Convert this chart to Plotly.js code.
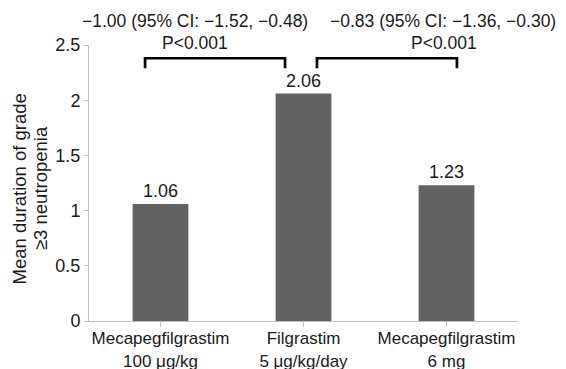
<!DOCTYPE html>
<html>
<head>
<meta charset="utf-8">
<script src="https://cdn.plot.ly/plotly-3.0.1.min.js"></script>
<style>html,body{margin:0;padding:0;background:#fff;}#chart{width:566px;height:369px;}</style>
</head>
<body>
<div id="chart"></div>
<script>
// Data
const categories = ['Mecapegfilgrastim<br>100 μg/kg', 'Filgrastim<br>5 μg/kg/day', 'Mecapegfilgrastim<br>6 mg'];
const meanDuration = [1.06, 2.06, 1.23];
const valueLabels = ['1.06', '2.06', '1.23'];
const diffLabels = ['−1.00 (95% CI: −1.52, −0.48)', '−0.83 (95% CI: −1.36, −0.30)'];
const pLabels = ['P&lt;0.001', 'P&lt;0.001'];
const yTitleLines = ['Mean duration of grade', '≥3 neutropenia'];

const FONT = 'Liberation Sans, Arial, Helvetica, sans-serif';
const TXT = '#1a1a1a';
const AX = '#c0c0c0';
const FS = 18;

const xIdx = categories.map((_, i) => i);

const trace = {
  type: 'bar',
  x: xIdx,
  y: meanDuration,
  width: 0.39,
  marker: {color: '#626262'},
  text: valueLabels,
  textposition: 'outside',
  textfont: {family: FONT, size: FS, color: TXT},
  cliponaxis: false,
  hoverinfo: 'none'
};

// bracket geometry (category-index units / data units)
const brY = 2.38, brTick = 2.29;
const brackets = [[-0.108, 0.871], [1.094, 2.073]];
const shapes = brackets.map(b => ({
  type: 'path', xref: 'x', yref: 'y',
  path: `M ${b[0]} ${brTick} L ${b[0]} ${brY} L ${b[1]} ${brY} L ${b[1]} ${brTick}`,
  line: {color: '#000', width: 2.7}
}));

const annPos = [{dx: 0.247, px: 0.247}, {dx: 0.825, px: 0.828}];
const annotations = [];
diffLabels.forEach((t, i) => {
  annotations.push({xref: 'paper', yref: 'paper', x: annPos[i].dx, y: 1.087, text: t, showarrow: false,
    xanchor: 'center', yanchor: 'middle', font: {family: FONT, size: 17.5, color: TXT}});
  annotations.push({xref: 'paper', yref: 'paper', x: annPos[i].px, y: 1.007, text: pLabels[i], showarrow: false,
    xanchor: 'center', yanchor: 'middle', font: {family: FONT, size: 17.5, color: TXT}});
});
// y-axis title, two rotated lines
const titleX = [-0.161, -0.113];
yTitleLines.forEach((t, i) => {
  annotations.push({xref: 'paper', yref: 'paper', x: titleX[i], y: 0.48, text: t, showarrow: false,
    textangle: -90, xanchor: 'center', yanchor: 'middle', font: {family: FONT, size: 18.5, color: TXT}});
});

const layout = {
  width: 566, height: 369,
  margin: {l: 89, r: 48, t: 45, b: 48},
  paper_bgcolor: '#fff', plot_bgcolor: '#fff',
  font: {family: FONT, size: FS, color: TXT},
  showlegend: false,
  xaxis: {
    tickmode: 'array', tickvals: xIdx, ticktext: categories,
    range: [-0.5, 2.5],
    showline: true, linecolor: AX, linewidth: 1,
    ticks: 'outside', tickson: 'boundaries', ticklen: 5, tickcolor: AX,
    ticklabelstandoff: -3,
    showgrid: false, zeroline: false,
    tickfont: {family: FONT, size: 17, color: TXT}
  },
  yaxis: {
    range: [0, 2.5], dtick: 0.5, tick0: 0,
    showline: true, linecolor: AX, linewidth: 1,
    ticks: 'outside', ticklen: 4, tickcolor: AX,
    showgrid: false, zeroline: false,
    tickfont: {family: FONT, size: FS, color: TXT}
  },
  shapes: shapes,
  annotations: annotations
};

Plotly.newPlot('chart', [trace], layout, {staticPlot: true, displayModeBar: false});
</script>
</body>
</html>
